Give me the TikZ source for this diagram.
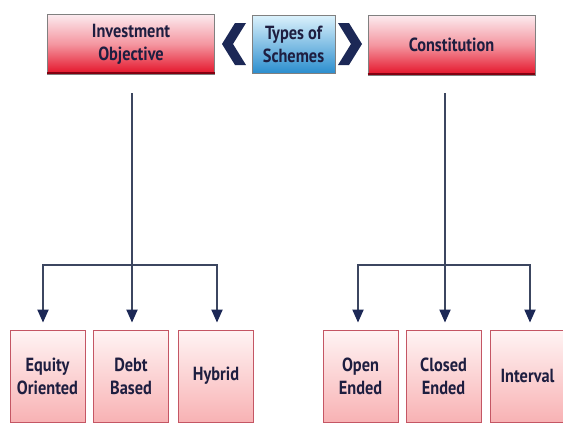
\documentclass[tikz,border=0pt]{standalone}
\usepackage{fontspec}
\setmainfont{PT Sans}[FakeStretch=0.86]
\usetikzlibrary{arrows.meta}
\definecolor{txtnavy}{RGB}{30,30,64}
\definecolor{linecol}{RGB}{60,70,96}
\definecolor{chev}{RGB}{28,40,86}
\definecolor{redtop}{RGB}{252,236,240}
\definecolor{redmid}{RGB}{244,150,160}
\definecolor{redbot}{RGB}{228,18,40}
\definecolor{rededge}{RGB}{130,0,16}
\definecolor{pinktop}{RGB}{255,244,244}
\definecolor{pinkbot}{RGB}{248,178,180}
\definecolor{pinkedge}{RGB}{196,86,100}
\definecolor{bluetop}{RGB}{220,242,252}
\definecolor{bluebot}{RGB}{44,142,206}
\definecolor{grayedge}{RGB}{128,128,128}
\tikzset{
  x=1pt,y=1pt,
  txt/.style={font=\fontsize{19}{23}\selectfont\bfseries, text=txtnavy, align=center, inner sep=0pt},
  topbox/.style={txt, rectangle, draw=grayedge, line width=0.8pt, top color=redtop, bottom color=redbot,
     middle color=redmid, minimum width=167pt, minimum height=60pt},
  bluebox/.style={txt, rectangle, draw=grayedge, line width=0.8pt, top color=bluetop, bottom color=bluebot,
     minimum width=83pt, minimum height=58pt},
  subbox/.style={txt, rectangle, draw=pinkedge, line width=0.9pt, top color=pinktop, bottom color=pinkbot,
     minimum width=75pt, minimum height=92pt},
  conn/.style={draw=linecol, line width=2pt},
  arr/.style={conn, -{Triangle[width=11pt,length=13pt,fill=chev,color=chev]}, shorten >=7pt},
}
\begin{document}
\begin{tikzpicture}
\useasboundingbox (0,0) rectangle (563,-424);
\fill[white] (0,0) rectangle (563,-424);

% top row
\node[topbox] (io) at (131,-44) {Investment\\Objective};
\node[bluebox] (ts) at (293.5,-44) {Types of\\Schemes};
\node[topbox] (co) at (451.5,-45) {Constitution};
\draw[rededge, line width=2pt] ([yshift=1pt]io.south west) -- ([yshift=1pt]io.south east);
\draw[rededge, line width=2pt] ([yshift=1pt]co.south west) -- ([yshift=1pt]co.south east);

% chevrons
\fill[chev] (235,-23) -- (246,-23) -- (233,-44) -- (246,-65) -- (235,-65) -- (222,-44) -- cycle;
\fill[chev] (338,-23) -- (349,-23) -- (362,-44) -- (349,-65) -- (338,-65) -- (351,-44) -- cycle;

% bottom boxes
\node[subbox] (eq) at (47.5,-376) {Equity\\Oriented};
\node[subbox] (db) at (131,-376) {Debt\\Based};
\node[subbox] (hy) at (216,-376) {Hybrid};
\node[subbox] (op) at (360.5,-376) {Open\\Ended};
\node[subbox] (cl) at (443.5,-376) {Closed\\Ended};
\node[subbox] (iv) at (527.5,-376) {Interval};

% connectors
\coordinate (ls) at (132,-93);
\coordinate (lj) at (132,-265);
\coordinate (rs) at (445,-93);
\coordinate (rj) at (445,-265);

\draw[arr] (ls) -- (ls |- db.north);
\draw[arr] (lj) -| ([xshift=-4.5pt]eq.north);
\draw[arr] (lj) -| ([xshift=1pt]hy.north);
\draw[arr] (rs) -- (rs |- cl.north);
\draw[arr] (rj) -| ([xshift=-2.5pt]op.north);
\draw[arr] (rj) -| ([xshift=2.5pt]iv.north);
\end{tikzpicture}
\end{document}
